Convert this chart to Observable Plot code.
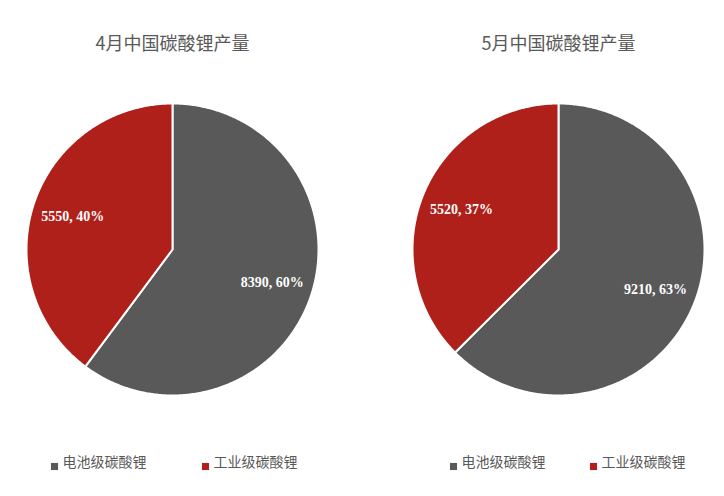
<!DOCTYPE html>
<html>
<head>
<meta charset="utf-8">
<script src="https://cdn.jsdelivr.net/npm/d3@7"></script>
<script src="https://cdn.jsdelivr.net/npm/@observablehq/plot@0.6"></script>
<style>
  html, body { margin: 0; padding: 0; background: #fff; }
  #chart { width: 724px; height: 496px; }
</style>
</head>
<body>
<div id="chart"></div>
<script>
// ---- data ----
const months = ["4月", "5月"];
const titles = ["4月中国碳酸锂产量", "5月中国碳酸锂产量"];
const categories = ["电池级碳酸锂", "工业级碳酸锂"];
const batteryGrade = [8390, 9210];
const industrialGrade = [5550, 5520];

// ---- styles / layout ----
const colors = ["#595959", "#B0201A"];
const textColor = "#595959";
// legend pixel offsets per facet: [marker1, text1, marker2, text2]
const legendOffsets = [[-118, -110, 33, 41], [-105, -97, 35, 43]];

// ---- build slice polygons from the data with d3.pie ----
const polys = [];
const labels = [];
months.forEach((m, i) => {
  const vals = [batteryGrade[i], industrialGrade[i]];
  const total = d3.sum(vals);
  const arcs = d3.pie().sort(null).startAngle(0).endAngle(2 * Math.PI)(vals);
  arcs.forEach((a, j) => {
    const key = m + categories[j];
    const n = Math.max(2, Math.ceil((a.endAngle - a.startAngle) / 0.01));
    polys.push({month: m, cat: categories[j], key, x: 0, y: 0});
    for (let k = 0; k <= n; k++) {
      const t = a.startAngle + (a.endAngle - a.startAngle) * k / n;
      polys.push({month: m, cat: categories[j], key, x: Math.sin(t), y: Math.cos(t)});
    }
    polys.push({month: m, cat: categories[j], key, x: 0, y: 0});
    const mid = (a.startAngle + a.endAngle) / 2;
    labels.push({
      month: m,
      x: 0.72 * Math.sin(mid),
      y: 0.72 * Math.cos(mid),
      text: `${vals[j]}, ${Math.round(vals[j] / total * 100)}%`
    });
  });
});

const legendMarks = [];
months.forEach((m, i) => {
  const [d1, t1, d2, t2] = legendOffsets[i];
  legendMarks.push(
    Plot.dot([m], {
      fx: d => d, frameAnchor: "bottom", dx: d1, dy: 71,
      symbol: "square", r: 4, fill: colors[0], stroke: null
    }),
    Plot.text([m], {
      fx: d => d, text: () => categories[0], frameAnchor: "bottom",
      dx: t1, dy: 71, textAnchor: "start", fontSize: 14, fill: textColor
    }),
    Plot.dot([m], {
      fx: d => d, frameAnchor: "bottom", dx: d2, dy: 71,
      symbol: "square", r: 4, fill: colors[1], stroke: null
    }),
    Plot.text([m], {
      fx: d => d, text: () => categories[1], frameAnchor: "bottom",
      dx: t2, dy: 71, textAnchor: "start", fontSize: 14, fill: textColor
    })
  );
});

const chart = Plot.plot({
  width: 724,
  height: 496,
  marginLeft: 26,
  marginRight: 20,
  marginTop: 103,
  marginBottom: 101,
  x: {domain: [-1, 1], axis: null},
  y: {domain: [-1, 1], axis: null},
  fx: {domain: months, paddingInner: 94 / 386, paddingOuter: 0, axis: null, label: null},
  color: {domain: categories, range: colors},
  style: {fontFamily: "'Noto Sans CJK SC', 'Noto Sans', sans-serif", background: "#fff"},
  marks: [
    Plot.line(polys, {
      fx: "month", x: "x", y: "y", z: "key", fill: "cat",
      stroke: "white", strokeWidth: 2, curve: "linear"
    }),
    Plot.text(labels, {
      fx: "month", x: "x", y: "y", text: "text",
      fill: "white", fontSize: 14, fontWeight: "bold",
      fontFamily: "'Liberation Serif', 'DejaVu Serif', serif"
    }),
    Plot.text(months, {
      fx: d => d, text: (d, i) => titles[i],
      frameAnchor: "top", dy: -66, fontSize: 18, fill: textColor
    }),
    ...legendMarks
  ]
});
document.getElementById("chart").appendChild(chart);
</script>
</body>
</html>
